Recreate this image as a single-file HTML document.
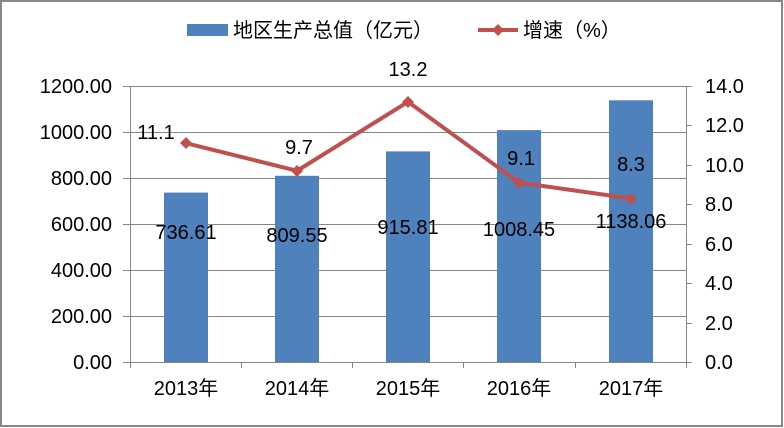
<!DOCTYPE html><html><head><meta charset="utf-8"><style>body{margin:0;background:#fff}svg{display:block}</style></head><body>
<svg width="784" height="428" xmlns="http://www.w3.org/2000/svg" font-family="Liberation Sans, Noto Sans CJK SC, sans-serif" font-size="20" fill="#000">
<rect x="1" y="1" width="781" height="425" fill="#fff" stroke="#888" stroke-width="2"/>
<g stroke="#868686" stroke-width="1">
<line x1="123" y1="86.5" x2="686" y2="86.5"/><line x1="123" y1="132.5" x2="686" y2="132.5"/><line x1="123" y1="178.5" x2="686" y2="178.5"/><line x1="123" y1="224.5" x2="686" y2="224.5"/><line x1="123" y1="270.5" x2="686" y2="270.5"/><line x1="123" y1="316.5" x2="686" y2="316.5"/><line x1="123" y1="362.5" x2="692" y2="362.5"/>
<line x1="130.5" y1="86" x2="130.5" y2="368"/><line x1="686.5" y1="86" x2="686.5" y2="368"/>
<line x1="241.5" y1="362" x2="241.5" y2="368"/><line x1="352.5" y1="362" x2="352.5" y2="368"/><line x1="463.5" y1="362" x2="463.5" y2="368"/><line x1="575.5" y1="362" x2="575.5" y2="368"/>
<line x1="686" y1="86.5" x2="692" y2="86.5"/><line x1="686" y1="125.5" x2="692" y2="125.5"/><line x1="686" y1="165.5" x2="692" y2="165.5"/><line x1="686" y1="204.5" x2="692" y2="204.5"/><line x1="686" y1="244.5" x2="692" y2="244.5"/><line x1="686" y1="283.5" x2="692" y2="283.5"/><line x1="686" y1="323.5" x2="692" y2="323.5"/>
</g>
<g fill="#4f81bd">
<rect x="164" y="192.6" width="44" height="169.4"/><rect x="275" y="175.8" width="44" height="186.2"/><rect x="386" y="151.4" width="44" height="210.6"/><rect x="497" y="130.1" width="44" height="231.9"/><rect x="609" y="100.3" width="44" height="261.7"/>
</g>
<polyline points="186,143.2 297,170.8 408,101.8 519,182.6 631,198.5" fill="none" stroke="#c0504d" stroke-width="4"/>
<g fill="#c0504d">
<path d="M186,137l6,6-6,6-6-6z"/><path d="M297,165l6,6-6,6-6-6z"/><path d="M408,96l6,6-6,6-6-6z"/><path d="M519,177l6,6-6,6-6-6z"/><path d="M631,193l6,6-6,6-6-6z"/>
</g>
<g text-anchor="end"><text x="112" y="93">1200.00</text><text x="112" y="139">1000.00</text><text x="112" y="185">800.00</text><text x="112" y="231">600.00</text><text x="112" y="277">400.00</text><text x="112" y="323">200.00</text><text x="112" y="369">0.00</text></g>
<g><text x="705" y="93">14.0</text><text x="705" y="132">12.0</text><text x="705" y="172">10.0</text><text x="705" y="211">8.0</text><text x="705" y="251">6.0</text><text x="705" y="290">4.0</text><text x="705" y="330">2.0</text><text x="705" y="369">0.0</text></g>
<g text-anchor="middle">
<text x="186" y="395">2013年</text><text x="297" y="395">2014年</text><text x="408" y="395">2015年</text><text x="519" y="395">2016年</text><text x="631" y="395">2017年</text>
<text x="186" y="239">736.61</text><text x="297" y="242">809.55</text><text x="408" y="234">915.81</text><text x="519" y="236">1008.45</text><text x="631" y="228">1138.06</text>
<text x="156" y="139">11.1</text><text x="299" y="154">9.7</text><text x="408" y="76">13.2</text><text x="521" y="165">9.1</text><text x="631" y="171">8.3</text>
</g>
<rect x="187" y="24" width="41" height="12" fill="#4f81bd"/>
<text x="233" y="37">地区生产总值（亿元）</text>
<line x1="478" y1="30" x2="518" y2="30" stroke="#c0504d" stroke-width="4"/>
<path d="M498,24l6,6-6,6-6-6z" fill="#c0504d"/>
<text x="523" y="37">增速（%）</text>
</svg></body></html>
